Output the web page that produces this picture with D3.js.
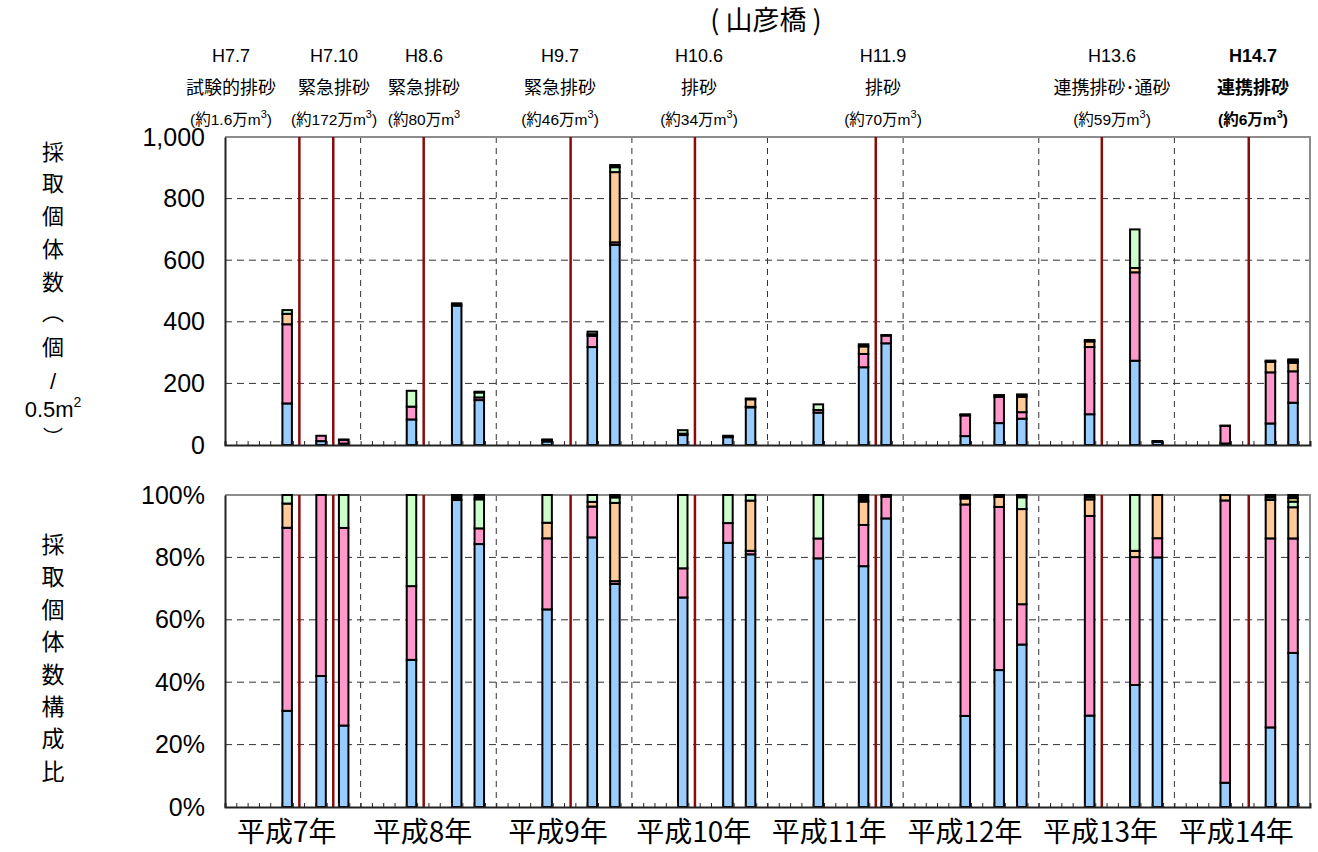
<!DOCTYPE html>
<html>
<head>
<meta charset="utf-8">
<script src="https://cdn.jsdelivr.net/npm/d3@7"></script>
<style>
  body { margin: 0; background: #fff; }
  text { font-family: "Liberation Sans", Arial, "Noto Sans CJK JP", sans-serif; fill: #000; }
  .jp { font-family: "Noto Sans CJK JP", sans-serif; }
</style>
</head>
<body>
<svg id="chart" width="1318" height="852"></svg>
<script>
// ---- data ----
const years = ["平成7年", "平成8年", "平成9年", "平成10年", "平成11年", "平成12年", "平成13年", "平成14年"];
const groups = ["カゲロウ目", "ハエ目", "トビケラ目", "カワゲラ目", "コウチュウ目", "その他"];
const colors = ["#99ccff", "#ff99cc", "#ffcc99", "#ccffcc", "#ffff99", "#000000"];

// sampling month, counted from 平成7年1月 (0 = Jan H7)
const sampleMonth = [5, 8, 10, 16, 20, 22, 28, 32, 34, 40, 44, 46, 52, 56, 58, 65, 68, 70, 76, 80, 82, 88, 92, 94];
// individuals / 0.5m2 by group
const kagerou  = [135, 12.6, 4.7, 83, 452.6, 145.8, 11.4, 318, 650, 32.3, 25.4, 122.3, 105.2, 252.4, 330.2, 28.9, 71.1, 85.4, 99.9, 273.7, 10.4, 4.9, 69.9, 137.3];
const hae      = [257, 17.4, 11.4, 41.6, 0, 8.7, 4.1, 36.4, 8, 4.5, 1.9, 1.7, 8.4, 43.2, 25, 67.1, 84.7, 21.2, 218.2, 287, 0.8, 57, 166, 102];
const tobikera = [34, 0, 0, 0, 0, 0, 0.9, 5.5, 228, 0, 0, 24.3, 0, 24.5, 0, 1.9, 5.2, 50, 18.1, 14, 1.8, 1.1, 33.7, 27.8];
const kawagera = [12, 0, 1.9, 51.4, 0, 16.1, 1.6, 8.1, 16, 11.3, 2.7, 2.7, 18.4, 0, 0, 0, 0, 6.2, 2.4, 125.3, 0, 0, 2.2, 5];
const kouchu   = [0, 0, 0, 0, 0, 0, 0, 0, 0, 0, 0, 0, 0, 0, 0, 0.5, 0, 0, 0, 0, 0, 0, 0, 3.1];
const sonota   = [0, 0, 0, 0, 7.4, 2.4, 0, 0, 7, 0, 0, 0, 0, 6.9, 1.8, 0.6, 1.0, 1.2, 2.4, 0, 0, 0, 2.2, 2.8];

// sediment flushing events (month counted from 平成7年1月)
const flushMonth  = [6, 9, 17, 30, 41, 57, 77, 90];
const flushDate   = ["H7.7", "H7.10", "H8.6", "H9.7", "H10.6", "H11.9", "H13.6", "H14.7"];
const flushKind   = ["試験的排砂", "緊急排砂", "緊急排砂", "緊急排砂", "排砂", "排砂", "連携排砂･通砂", "連携排砂"];
const flushVolume = ["1.6", "172", "80", "46", "34", "70", "59", "6"];

const yTicksCount = [0, 200, 400, 600, 800, 1000];
const yTicksRatio = [0, 0.2, 0.4, 0.6, 0.8, 1];

// ---- layout ----
const svg = d3.select("#chart");
const left = 225, right = 1310;
const top1 = 137, bot1 = 445;
const top2 = 495, bot2 = 807;
const barW = 9.5;

const x = d3.scaleLinear().domain([0, years.length * 12]).range([left, right]);
const yCount = d3.scaleLinear().domain([0, 1000]).range([bot1, top1]);
const yRatio = d3.scaleLinear().domain([0, 1]).range([bot2, top2]);

const series = [kagerou, hae, tobikera, kawagera, kouchu, sonota];
const rows = sampleMonth.map(function (m, i) {
  const r = { m: m };
  groups.forEach(function (g, k) { r[g] = series[k][i]; });
  return r;
});

const stackCount = d3.stack().keys(groups)(rows);
const stackRatio = d3.stack().keys(groups).offset(d3.stackOffsetExpand)(rows);

function panel(y, yTop, yBot, ticks, fmt, stacked) {
  const g = svg.append("g");

  // horizontal grid
  g.selectAll("line.hgrid")
    .data(ticks.slice(1, -1))
    .enter().append("line")
    .attr("x1", left).attr("x2", right)
    .attr("y1", function (d) { return y(d); })
    .attr("y2", function (d) { return y(d); })
    .attr("stroke", "#333").attr("stroke-width", 1)
    .attr("stroke-dasharray", "7,5");

  // year boundaries
  g.selectAll("line.vgrid")
    .data(d3.range(1, years.length))
    .enter().append("line")
    .attr("x1", function (d) { return x(d * 12); })
    .attr("x2", function (d) { return x(d * 12); })
    .attr("y1", yTop).attr("y2", yBot)
    .attr("stroke", "#333").attr("stroke-width", 1)
    .attr("stroke-dasharray", "6,5");

  // frame top / right in grey
  g.append("path")
    .attr("d", "M" + left + "," + yTop + "H" + right + "V" + yBot)
    .attr("fill", "none").attr("stroke", "#8c8c8c").attr("stroke-width", 2);

  // flushing events
  g.selectAll("line.flush")
    .data(flushMonth)
    .enter().append("line")
    .attr("x1", function (d) { return x(d + 0.58); })
    .attr("x2", function (d) { return x(d + 0.58); })
    .attr("y1", yTop).attr("y2", yBot)
    .attr("stroke", "#8b0a0a").attr("stroke-width", 2.5);

  // stacked bars
  const layer = g.selectAll("g.layer")
    .data(stacked)
    .enter().append("g")
    .attr("fill", function (d, i) { return colors[i]; });

  layer.selectAll("rect")
    .data(function (d) { return d.filter(function (s) { return s[1] - s[0] > 0; }); })
    .enter().append("rect")
    .attr("x", function (d) { return x(d.data.m + 0.5) - barW / 2; })
    .attr("y", function (d) { return y(d[1]); })
    .attr("width", barW)
    .attr("height", function (d) { return y(d[0]) - y(d[1]); })
    .attr("stroke", "#000").attr("stroke-width", 2);

  // y axis
  const ay = g.append("g")
    .attr("transform", "translate(" + left + ",0)")
    .call(d3.axisLeft(y).tickValues(ticks).tickFormat(fmt).tickSize(0).tickPadding(20));
  ay.select(".domain").attr("stroke", "#222").attr("stroke-width", 2);
  ay.selectAll("text").style("font-size", "25px").attr("fill", "#000");

  // month ticks on x axis
  const ax = g.append("g")
    .attr("transform", "translate(0," + yBot + ")")
    .call(d3.axisBottom(x).tickValues(d3.range(1, years.length * 12)).tickSize(-4).tickFormat(""));
  ax.select(".domain").attr("stroke", "#222").attr("stroke-width", 2);
  ax.selectAll(".tick line").attr("stroke", "#222").attr("stroke-width", 1);
}

panel(yCount, top1, bot1, yTicksCount, d3.format(","), stackCount);
panel(yRatio, top2, bot2, yTicksRatio, d3.format(".0%"), stackRatio);

// year labels
svg.selectAll("text.year")
  .data(years)
  .enter().append("text")
  .attr("class", "jp")
  .attr("x", function (d, i) { return x(i * 12 + 6) - 6; })
  .attr("y", 842)
  .attr("text-anchor", "middle")
  .style("font-size", "28px")
  .text(function (d) { return d; });

// title
svg.append("text")
  .attr("class", "jp")
  .attr("x", 766).attr("y", 30)
  .attr("text-anchor", "middle")
  .style("font-size", "27px")
  .text("( 山彦橋 )");

// flushing annotations
const labelCx = [231, 334, 424, 560, 699, 883, 1112, 1253];
const note = svg.selectAll("g.note")
  .data(flushDate)
  .enter().append("g")
  .style("font-weight", function (d, i) { return i === flushDate.length - 1 ? "bold" : null; })
  .attr("transform", function (d, i) { return "translate(" + labelCx[i] + ",0)"; });

note.append("text")
  .attr("y", 62).attr("text-anchor", "middle")
  .style("font-size", "18px")
  .text(function (d) { return d; });

note.append("text")
  .attr("class", "jp")
  .attr("y", 94).attr("text-anchor", "middle")
  .style("font-size", "18px")
  .text(function (d, i) { return flushKind[i]; });

const vol = note.append("text")
  .attr("y", 125).attr("text-anchor", "middle")
  .style("font-size", "15.5px");
vol.append("tspan").text(function (d, i) { return "(約" + flushVolume[i] + "万m"; });
vol.append("tspan").attr("dy", -7).style("font-size", "11px").text("3");
vol.append("tspan").attr("dy", 7).text(function (d, i) { return i === 2 ? "" : ")"; });

// vertical axis titles
const title1 = ["採", "取", "個", "体", "数", "︵", "個", "/", "0.5m", "︶"];
const title1Y = [152, 183, 216, 249, 282, 312, 347, 381, 409, 437];
title1.forEach(function (c, i) {
  const t = svg.append("text")
    .attr("class", c === "0.5m" || c === "/" ? null : "jp")
    .attr("x", 53).attr("y", title1Y[i] + 8)
    .attr("text-anchor", "middle")
    .style("font-size", c === "︶" ? "20px" : "22px");
  t.append("tspan").text(c);
  if (c === "0.5m") {
    t.append("tspan").attr("dy", -10).style("font-size", "14px").text("2");
  }
});

const title2 = "採取個体数構成比".split("");
title2.forEach(function (c, i) {
  svg.append("text")
    .attr("class", "jp")
    .attr("x", 53).attr("y", 545 + i * 32.4 + 8)
    .attr("text-anchor", "middle")
    .style("font-size", "23px")
    .text(c);
});
</script>
</body>
</html>
